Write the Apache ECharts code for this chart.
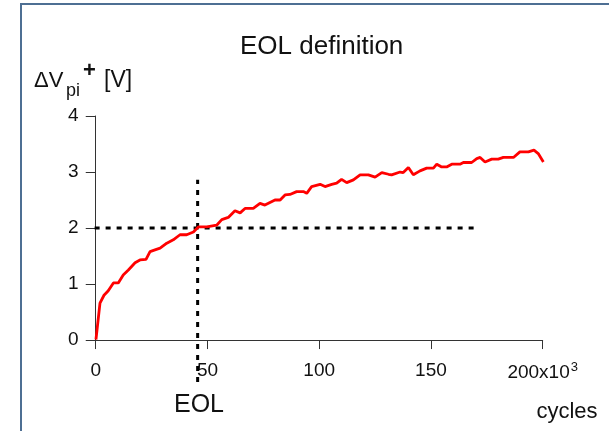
<!DOCTYPE html>
<html>
<head>
<meta charset="utf-8">
<script src="https://cdn.jsdelivr.net/npm/echarts@6/dist/echarts.min.js"></script>
<style>
html,body{margin:0;padding:0;background:#fff;}
#chart{width:609px;height:431px;}
</style>
</head>
<body>
<div id="chart"></div>
<script>
// cycles in units of 10^3
const cyclesK = [0.1,1.9,3.7,5.6,7.9,10.1,12.3,14.6,17.6,19.8,22.5,24.3,26.5,28.8,31.8,34.7,37.7,40.7,43.7,45.9,49.7,54.1,56.4,59.3,62.3,64.6,66.8,70.5,73.5,75.7,80.2,82.5,84.7,86.9,89.9,92.9,94.4,96.6,100.4,102.6,105.6,107.8,110,112.3,115.3,118.3,122,125,128,131,132.4,136.2,137.6,139.9,142.1,145.1,148.1,151.1,152.6,154.8,157,159.3,163,164.5,168.2,170.5,172,174.2,177.2,180.1,182.4,186.9,189.8,193.6,196.1,198,200.3];
const deltaVpi = [0.01,0.66,0.80,0.88,1.02,1.02,1.16,1.25,1.38,1.43,1.44,1.58,1.61,1.64,1.73,1.79,1.88,1.88,1.93,2.02,2.02,2.05,2.15,2.19,2.31,2.27,2.35,2.35,2.44,2.41,2.50,2.50,2.59,2.60,2.65,2.65,2.62,2.74,2.78,2.74,2.78,2.80,2.87,2.81,2.86,2.95,2.95,2.91,2.99,2.96,2.95,3.00,2.99,3.08,2.95,3.02,3.07,3.07,3.14,3.09,3.09,3.14,3.14,3.17,3.17,3.24,3.26,3.18,3.23,3.23,3.26,3.26,3.36,3.36,3.39,3.33,3.18];
// EOL guide lines
const eolLineX = [45.6, 45.6];
const eolLineY = [-0.75, 2.86];
const thresholdX = [-0.5, 170.5];
const thresholdY = [2, 2];
// tick values / labels
const xTicks = [0, 50, 100, 150, 200];
const xTickLabels = ['0', '50', '100', '150', '{a|200x10}{s|3}'];
const yTicks = [0, 1, 2, 3, 4];

const FONT = 'Liberation Sans, Arial, Helvetica, sans-serif';
const chart = echarts.init(document.getElementById('chart'), null, {renderer: 'canvas'});

function pairs(xs, ys) { return xs.map((x, i) => [x, ys[i]]); }

const option = {
  backgroundColor: '#fff',
  animation: false,
  title: {
    text: 'EOL definition',
    left: 235, top: 29,
    textStyle: {fontFamily: FONT, fontSize: 26, fontWeight: 'normal', color: '#111'}
  },
  grid: {left: 93.5, right: 66.3, top: 116, bottom: 88.7, containLabel: false},
  xAxis: {
    type: 'value', min: -1, max: 200,
    splitLine: {show: false},
    axisLine: {show: true, lineStyle: {color: '#333', width: 1}},
    axisTick: {show: true, length: 9, customValues: xTicks, lineStyle: {color: '#333'}},
    axisLabel: {
      customValues: xTicks, margin: 19, fontFamily: FONT, fontSize: 19, color: '#111',
      formatter: function (v) { return xTickLabels[xTicks.indexOf(v)]; },
      rich: {
        a: {fontFamily: FONT, fontSize: 19, color: '#111', lineHeight: 22},
        s: {fontFamily: FONT, fontSize: 13, color: '#111', verticalAlign: 'top', lineHeight: 13, padding: [0,0,0,1]}
      }
    }
  },
  yAxis: {
    type: 'value', min: -0.04, max: 4,
    splitLine: {show: false},
    axisLine: {show: true, lineStyle: {color: '#333', width: 1}},
    axisTick: {show: true, length: 10, customValues: yTicks, lineStyle: {color: '#333'}},
    axisLabel: {customValues: yTicks, margin: 15, fontFamily: FONT, fontSize: 19, color: '#111'}
  },
  series: [
    {
      type: 'line', data: pairs(cyclesK, deltaVpi), symbol: 'none', clip: false,
      lineStyle: {color: '#ff0000', width: 2.8}, z: 3
    },
    {
      type: 'line', data: pairs(thresholdX, thresholdY), symbol: 'none', clip: false,
      lineStyle: {color: '#000', width: 3, type: [5, 6]}, z: 2
    },
    {
      type: 'line', data: pairs(eolLineX, eolLineY), symbol: 'none', clip: false,
      lineStyle: {color: '#000', width: 3, type: [5, 6]}, z: 2
    }
  ],
  graphic: [
    {type: 'rect', shape: {x: 21, y: 4, width: 700, height: 500}, style: {fill: 'none', stroke: '#4e6f93', lineWidth: 2}, silent: true},
    {type: 'text', x: 34, y: 81, style: {text: 'ΔV', font: '22px ' + FONT, fill: '#111', verticalAlign: 'middle'}},
    {type: 'text', x: 66, y: 91, style: {text: 'pi', font: '18px ' + FONT, fill: '#111', verticalAlign: 'middle'}},
    {type: 'text', x: 83, y: 71, style: {text: '+', font: 'bold 22px ' + FONT, fill: '#111', verticalAlign: 'middle'}},
    {type: 'text', x: 104, y: 81, style: {text: '[V]', font: '23px ' + FONT, fill: '#111', verticalAlign: 'middle'}},
    {type: 'text', x: 199, y: 405, style: {text: 'EOL', font: '25px ' + FONT, fill: '#111', align: 'center', verticalAlign: 'middle'}},
    {type: 'text', x: 567, y: 412, style: {text: 'cycles', font: '22px ' + FONT, fill: '#111', align: 'center', verticalAlign: 'middle'}}
  ]
};
chart.setOption(option);
</script>
</body>
</html>
